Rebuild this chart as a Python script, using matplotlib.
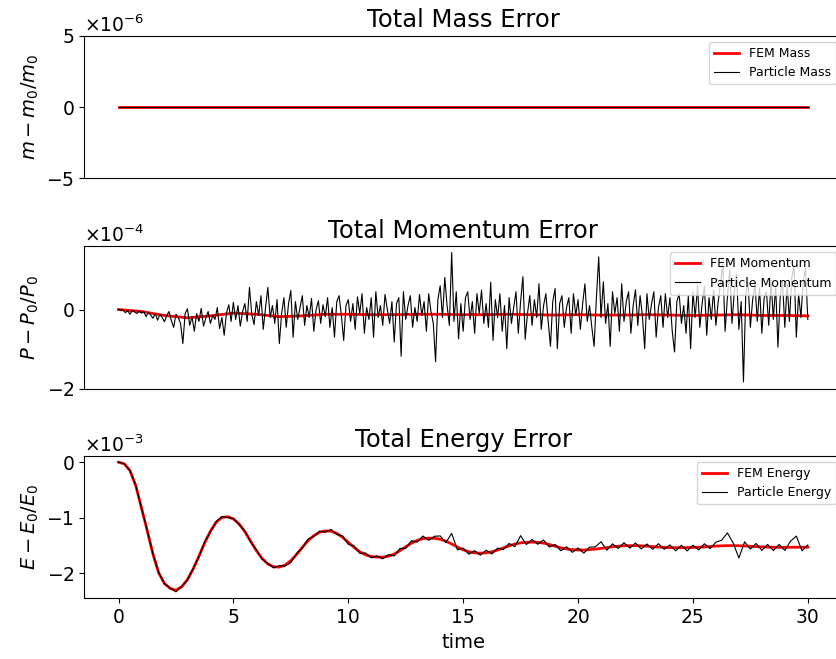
import numpy as np
import matplotlib
matplotlib.use("Agg")
import matplotlib.pyplot as plt

# time grids
t_coarse = np.arange(0, 31, 1.0)          # FEM momentum / mass
t_energy = np.arange(0, 30.001, 0.25)     # energy series
t_mom = np.arange(0, 30.001, 0.1)         # particle momentum

# mass error (exactly conserved)
fem_mass = [0.0] * 31
particle_mass = [0.0] * 31

# momentum error, units of 1e-4
fem_momentum = [0.00, -0.05, -0.15, -0.21, -0.16, -0.09, -0.12, -0.18, -0.16, -0.12,
                -0.12, -0.13, -0.13, -0.12, -0.12, -0.13, -0.13, -0.12, -0.13, -0.14,
                -0.13, -0.14, -0.14, -0.13, -0.14, -0.15, -0.14, -0.13, -0.15, -0.15,
                -0.16]
particle_momentum = [
    0.00, -0.02, -0.01, -0.08, -0.03, -0.12, -0.02, -0.06, -0.10, -0.04,
    -0.09, -0.05, -0.18, -0.07, -0.14, -0.22, -0.10, -0.27, -0.12, -0.20,
    -0.31, -0.15, -0.05, -0.28, -0.45, -0.12, -0.20, -0.35, -0.86, -0.10,
    0.02, -0.40, -0.18, -0.55, -0.10, -0.30, 0.03, -0.42, -0.22, -0.05,
    -0.35, -0.15, -0.25, 0.05, -0.48, -0.20, -0.65, -0.08, 0.12, -0.30,
    0.18, -0.25, 0.10, -0.42, -0.05, 0.15, -0.30, 0.56, -0.12, -0.38,
    0.20, -0.15, 0.35, -0.50, 0.05, 0.56, -0.20, 0.10, -0.35, 0.25,
    -0.86, -0.10, 0.30, -0.45, 0.15, 0.48, -0.70, 0.20, -0.25, 0.05,
    0.35, -0.40, 0.10, -0.20, 0.28, -0.55, 0.00, 0.22, -0.35, 0.12,
    -0.18, 0.30, -0.45, 0.05, -0.70, 0.20, 0.35, -0.15, -0.78, 0.10,
    0.25, -0.30, 0.15, -0.50, 0.32, -0.10, 0.40, -0.60, 0.05, -0.25,
    0.30, -0.70, 0.45, -0.20, 0.10, -0.40, 0.38, 0.00, -0.35, 0.20,
    -0.82, 0.15, 0.30, -1.18, 0.45, -0.25, 0.10, 0.35, -0.45, 0.05,
    -0.30, 0.38, -0.15, 0.20, -0.55, 0.40, -0.05, -0.35, -1.32, 0.25,
    0.60, -0.20, 0.81, 0.10, -0.40, 1.44, -0.30, 0.45, -0.74, 0.15,
    -0.55, 0.30, 0.45, -0.25, 0.20, -0.60, 0.40, -0.10, 0.49, -0.35,
    0.15, -0.45, 0.69, -0.78, 0.25, -0.20, 0.40, -0.55, 0.10, -0.99,
    0.30, -0.35, 0.05, 0.45, -0.60, 0.20, 0.83, -0.75, -0.10, 0.35,
    -0.40, 0.25, -0.20, 0.65, -0.50, 0.10, 0.40, -0.30, -0.93, 0.20,
    0.53, -0.99, 0.15, 0.35, -0.45, 0.05, 0.30, -0.60, 0.40, -0.15,
    0.25, -0.50, 0.15, 0.65, -0.30, 0.10, -0.45, -0.93, 0.30, 1.33,
    -0.20, 0.70, -0.35, 0.15, -0.93, 0.45, -0.10, 0.30, -0.55, 0.65,
    -0.30, 0.20, 0.45, -0.60, 0.10, 0.50, -0.40, 0.35, -0.15, -0.99,
    0.40, -0.25, 0.15, 0.45, -0.70, 0.05, 0.35, -0.45, 0.40, -0.20,
    0.30, -0.55, -1.07, 0.20, 0.40, -0.35, 0.10, -0.60, 0.35, -0.99,
    0.45, -0.20, 0.60, -0.45, 0.15, 0.60, -0.65, 0.30, -0.25, 0.50,
    -0.40, 0.20, 0.65, 1.15, -0.55, 0.30, 1.00, -0.35, 0.45, 0.90,
    -0.50, 0.20, -1.83, 0.40, 0.70, -0.45, 0.25, 0.65, -0.30, 0.55,
    -0.60, 0.30, 0.45, -0.40, 0.75, -0.25, 0.60, -0.95, 0.35, 0.70,
    -0.45, 0.65, -0.30, 0.80, 1.10, -0.70, 0.40, -0.20, 0.70, 1.05,
    -0.25]

# energy error, units of 1e-3
fem_energy = [
    0.000, -0.030, -0.150, -0.420, -0.820, -1.230, -1.650, -1.990, -2.180, -2.270,
    -2.300, -2.240, -2.110, -1.920, -1.690, -1.450, -1.240, -1.080, -0.995, -0.980,
    -1.020, -1.110, -1.250, -1.420, -1.590, -1.730, -1.830, -1.880, -1.885, -1.850,
    -1.770, -1.660, -1.530, -1.410, -1.320, -1.260, -1.235, -1.240, -1.280, -1.350,
    -1.440, -1.530, -1.610, -1.665, -1.695, -1.705, -1.705, -1.690, -1.650, -1.590,
    -1.520, -1.455, -1.405, -1.375, -1.365, -1.368, -1.385, -1.420, -1.470, -1.525,
    -1.575, -1.610, -1.630, -1.635, -1.630, -1.610, -1.580, -1.540, -1.505, -1.470,
    -1.450, -1.440, -1.437, -1.440, -1.455, -1.480, -1.510, -1.540, -1.560, -1.572,
    -1.578, -1.578, -1.572, -1.562, -1.550, -1.535, -1.520, -1.510, -1.503, -1.500,
    -1.500, -1.503, -1.510, -1.518, -1.525, -1.530, -1.535, -1.537, -1.537, -1.535,
    -1.532, -1.528, -1.522, -1.515, -1.508, -1.503, -1.500, -1.500, -1.502, -1.506,
    -1.511, -1.517, -1.522, -1.526, -1.529, -1.530, -1.530, -1.529, -1.528, -1.528,
    -1.528]
energy_noise = [
    0.000, 0.003, -0.004, 0.005, -0.006, 0.004, -0.005, 0.007, -0.004, 0.006, -0.030, 0.010,
    -0.012, 0.015, -0.010, 0.018, -0.014, 0.012, 0.020, -0.016, 0.010, -0.012, 0.018, -0.015,
    0.018, -0.015, 0.012, -0.020, 0.025, -0.016, -0.035, 0.020, -0.015, 0.030, -0.018, 0.022,
    -0.025, 0.032, -0.020, 0.028, -0.036, 0.024, -0.030, 0.034, -0.024, 0.020, -0.032, 0.028,
    -0.036, 0.040, -0.028, 0.044, -0.032, 0.048, -0.040, 0.036, 0.060, -0.025, 0.190, -0.050,
    0.032, -0.044, 0.040, -0.036, 0.048, -0.040, 0.036, -0.032, 0.044, -0.048, 0.130, -0.040,
    0.048, -0.036, 0.056, -0.044, 0.032, -0.052, 0.040, -0.048, 0.036, -0.056, 0.044, 0.040,
    0.120, -0.048, 0.052, -0.040, 0.056, -0.044, 0.048, -0.056, 0.040, -0.048, 0.060, -0.036,
    0.048, -0.056, 0.044, -0.060, 0.040, -0.048, 0.056, -0.040, 0.070, 0.100, 0.230, 0.050,
    -0.220, 0.075, -0.050, 0.056, -0.064, 0.048, -0.060, 0.052, -0.056, 0.110, 0.200, -0.064,
    0.040]

plt.rcParams["font.size"] = 13.5

fig = plt.figure(figsize=(8.37, 6.59), dpi=100)
left, width, height = 0.1004, 0.9059, 0.2164
ax_m = fig.add_axes([left, 0.7294, width, height])
ax_p = fig.add_axes([left, 0.4102, width, height], sharex=ax_m)
ax_e = fig.add_axes([left, 0.0921, width, height], sharex=ax_m)

fem_energy = np.array(fem_energy)
particle_energy = fem_energy + np.array(energy_noise)

ax_m.plot(t_coarse, np.array(fem_mass), color="red", lw=2, label="FEM Mass")
ax_m.plot(t_coarse, np.array(particle_mass), color="black", lw=0.8, label="Particle Mass")
ax_m.set_ylim(-5e-6, 5e-6)
ax_m.set_yticks([-5e-6, 0, 5e-6])
ax_m.set_ylabel(r"$m-m_0/m_0$", fontsize=14)
ax_m.set_title("Total Mass Error", fontsize=17.5)

ax_p.plot(t_coarse, np.array(fem_momentum) * 1e-4, color="red", lw=2, label="FEM Momentum")
ax_p.plot(t_mom, np.array(particle_momentum) * 1e-4, color="black", lw=0.8, label="Particle Momentum")
ax_p.set_yticks([-2e-4, 0])
ax_p.set_ylabel(r"$P-P_0/P_0$", fontsize=14)
ax_p.set_title("Total Momentum Error", fontsize=17.5)

ax_e.plot(t_energy, fem_energy * 1e-3, color="red", lw=2, label="FEM Energy")
ax_e.plot(t_energy, particle_energy * 1e-3, color="black", lw=0.8, label="Particle Energy")
ax_e.set_yticks([-2e-3, -1e-3, 0])
ax_e.set_ylabel(r"$E-E_0/E_0$", fontsize=14)
ax_e.set_xlabel("time", fontsize=14)
ax_e.set_title("Total Energy Error", fontsize=17.5)

for ax in (ax_m, ax_p, ax_e):
    ax.spines["right"].set_visible(False)
    ax.ticklabel_format(axis="y", style="sci", scilimits=(0, 0), useMathText=True)
    ax.legend(loc="upper right", fontsize=9)
for ax in (ax_m, ax_p):
    ax.tick_params(axis="x", bottom=False, labelbottom=False)

fig.savefig("out.png", dpi=100)
